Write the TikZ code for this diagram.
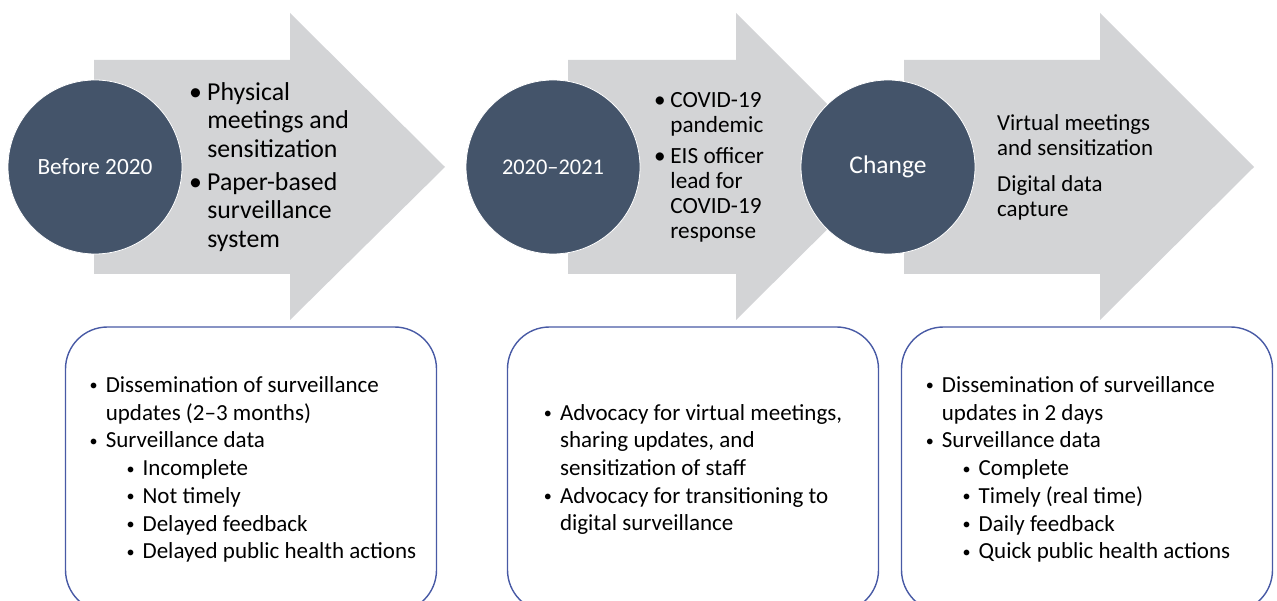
\documentclass[tikz,border=0pt]{standalone}
\usepackage{fontspec}
\usepackage{graphicx}
\setmainfont{Carlito}
\usetikzlibrary{calc,backgrounds,positioning}

\definecolor{arrowgray}{RGB}{211,212,214}
\definecolor{phaseblue}{RGB}{68,84,106}
\definecolor{boxblue}{RGB}{72,90,165}

% bullets and hanging gaps for the manual lists
\newcommand{\bul}{\makebox[0.7em][l]{\textbullet}}
\newcommand{\gap}{\hspace*{0.7em}}
\newcommand{\sbul}{\makebox[0.7em][l]{\raisebox{1.6pt}{\scalebox{0.7}{\textbullet}}}}
\newcommand{\sgap}{\hspace*{0.7em}}
\newcommand{\subbul}{\hspace*{1.6em}\sbul}

\begin{document}
\begin{tikzpicture}[x=1pt,y=-1pt,
  phase/.style={circle,fill=phaseblue,draw=white,line width=0.8pt,minimum size=174pt,inner sep=0pt,text=white},
  steptext/.style={anchor=west,align=left,inner sep=0pt},
  outcome/.style={draw=boxblue,line width=1.4pt,rounded corners=42pt,fill=white,minimum width=371pt,minimum height=285pt,inner sep=0pt},
  listtext/.style={align=left,inner sep=0pt,font=\fontsize{23}{27.7}\selectfont}]
	  \useasboundingbox (0,0) rectangle (1277,601);
	  \clip (0,0) rectangle (1277,601);

	  % gray phase arrows
	  \foreach \a/\b/\c in {94/290/445,568/736/890,904/1100/1254}
	    \fill[arrowgray] (\a,60) -- (\b,60) -- (\b,13) -- (\c,167) -- (\b,320) -- (\b,274) -- (\a,274) -- cycle;

	  \node[phase,font=\fontsize{23.3}{28}\selectfont] (P1) at (95,167)  {Before 2020};
	  \node[phase,font=\fontsize{22.4}{27}\selectfont] (P2) at (553,167) {2020--2021};
	  \node[phase,font=\fontsize{25.5}{30}\selectfont] (P3) at (888,167) {Change};

	  \node[steptext,font=\fontsize{25.8}{28.5}\selectfont] (T1) at (189,167)
	    {\bul Physical\\ \gap meetings and\\ \gap sensitization\\[4.5pt] \bul Paper-based\\ \gap surveillance\\ \gap system};
	  \node[steptext,font=\fontsize{23.2}{25}\selectfont] (T2) at (654,167)
	    {\bul COVID-19\\ \gap pandemic\\[6pt] \bul EIS officer\\ \gap lead for\\ \gap COVID-19\\ \gap response};
	  \node[steptext,font=\fontsize{22.9}{25}\selectfont] (T3) at (997,167)
	    {Virtual meetings\\ and sensitization\\[11pt] Digital data\\ capture};

	  % outcome boxes
	  \node[outcome] (B1) at (251,469.5) {};
	  \node[outcome] (B2) at (693,469.5) {};
	  \node[outcome] (B3) at (1087,469.5) {};

	  \node[listtext] (L1) at ([xshift=2pt]B1.center)
	    {\sbul Dissemination of surveillance\\ \sgap updates (2--3 months)\\ \sbul Surveillance data\\ \subbul Incomplete\\ \subbul Not timely\\ \subbul Delayed feedback\\ \subbul Delayed public health actions};
	  \node[listtext] (L2) at (B2.center)
	    {\sbul Advocacy for virtual meetings,\\ \sgap sharing updates, and\\ \sgap sensitization of staff\\ \sbul Advocacy for transitioning to\\ \sgap digital surveillance};
	  \node[listtext] (L3) at ([xshift=-9pt]B3.center)
	    {\sbul Dissemination of surveillance\\ \sgap updates in 2 days\\ \sbul Surveillance data\\ \subbul Complete\\ \subbul Timely (real time)\\ \subbul Daily feedback\\ \subbul Quick public health actions};
	\end{tikzpicture}
\end{document}
